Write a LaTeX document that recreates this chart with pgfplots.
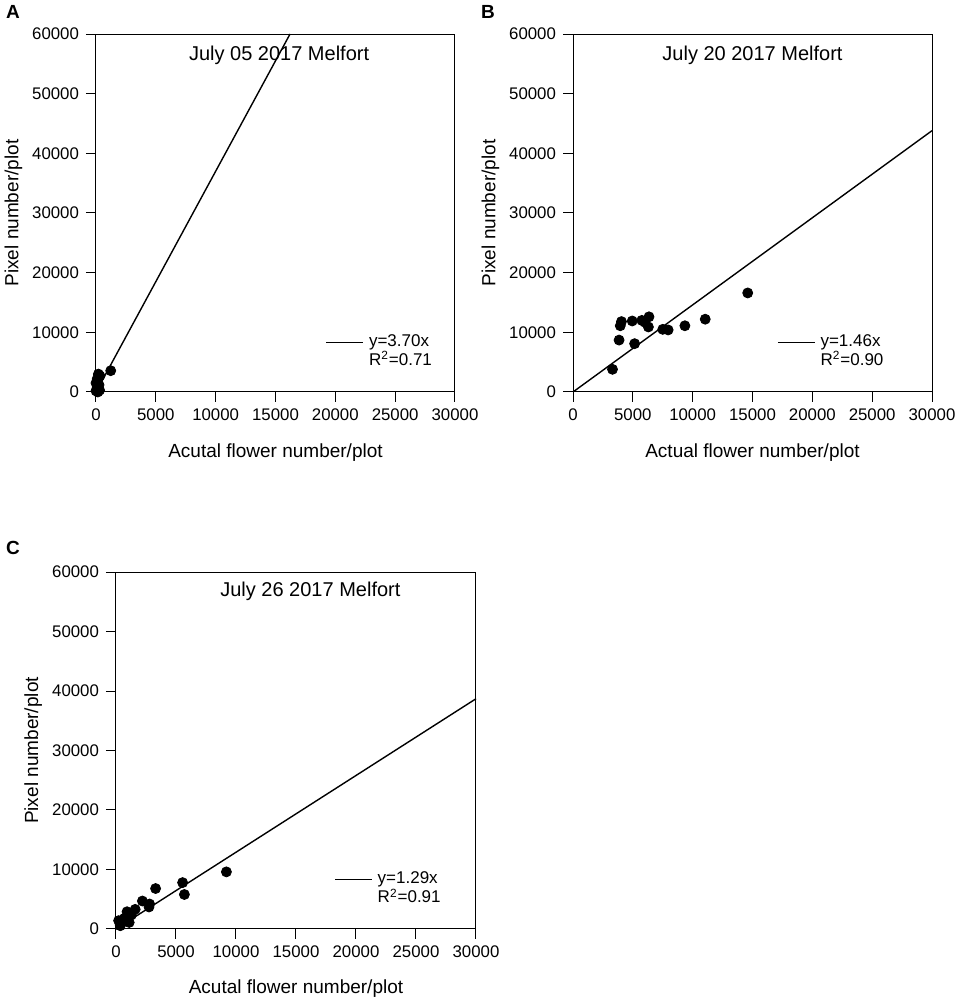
\documentclass[border=0pt]{standalone}
\usepackage{fontspec}
\setmainfont{Liberation Sans}
\usepackage{pgfplots}
\pgfplotsset{compat=1.18}

\pgfplotsset{
  panel/.style={
    width=179.5pt, height=179pt, scale only axis,
    xmin=0, xmax=30000, ymin=0, ymax=60000,
    xtick={0,5000,...,30000}, ytick={0,10000,...,60000},
    tick align=outside, tick pos=left, major tick length=5pt,
    axis line style={line width=0.5pt},
    every tick/.style={black, line width=0.5pt},
    scaled ticks=false,
    /pgf/number format/1000 sep={},
    /pgf/number format/assume math mode=true,
    tick label style={font=\fontsize{8.4}{10}\selectfont},
    label style={font=\fontsize{9.5}{11}\selectfont},
    xlabel style={at={(axis description cs:0.5,-0.168)}, anchor=center},
    ylabel style={at={(axis description cs:-0.23,0.5)}, anchor=center},
    clip=false,
    legend style={draw=none, fill=none, font=\fontsize{8.5}{9}\selectfont,
      row sep=-3pt, inner sep=0pt,
      /tikz/every odd column/.append style={column sep=0.5pt}},
    legend cell align=left,
  },
  dots/.style={only marks, mark=*, mark size=2.5pt, black, forget plot},
  fit/.style={black, line width=0.7pt, no marks,
    legend image code/.code={\draw[black, line width=0.6pt] (0cm,0cm) -- (0.65cm,0cm);}},
}

\begin{document}
\begin{tikzpicture}
\useasboundingbox (0pt,0pt) rectangle (478.5pt,-500.5pt);

% A
\begin{axis}[panel, at={(48pt,-17pt)}, anchor=north west,
  xlabel={Acutal flower number/plot}, ylabel={Pixel number/plot},
  legend style={at={(axis description cs:0.948,0.053)}, anchor=south east}]
\addplot[dots] coordinates {
  (1230,3570) (200,3000) (330,2700) (100,2200) (0,1500) (250,1200)
  (100,600) (0,200) (300,300) (150,0) (200,800)
};
\addplot[fit] coordinates {(0,0) (16216,60000)};
\addlegendentry{y=3.70x}
\addlegendimage{empty legend}
\addlegendentry{R\textsuperscript{2}=0.71}
\node[font=\fontsize{10}{12}\selectfont] at (rel axis cs:0.51,0.94) {July 05 2017 Melfort};
\node[font=\bfseries\fontsize{9.5}{11}\selectfont] at (rel axis cs:-0.231,1.061) {A};
\end{axis}

% B
\begin{axis}[panel, at={(286.5pt,-17pt)}, anchor=north west,
  xlabel={Actual flower number/plot}, ylabel={Pixel number/plot},
  legend style={at={(axis description cs:0.877,0.053)}, anchor=south east}]
\addplot[dots] coordinates {
  (3300,3800) (3850,8700) (3950,11100) (4050,11800) (4950,11900)
  (5150,8100) (5750,12000) (6000,11700) (6350,12600) (6300,10900)
  (7500,10500) (7950,10400) (9350,11100) (11050,12200) (14600,16600)
};
\addplot[fit] coordinates {(0,0) (30000,43800)};
\addlegendentry{y=1.46x}
\addlegendimage{empty legend}
\addlegendentry{R\textsuperscript{2}=0.90}
\node[font=\fontsize{10}{12}\selectfont] at (rel axis cs:0.50,0.94) {July 20 2017 Melfort};
\node[font=\bfseries\fontsize{9.5}{11}\selectfont] at (rel axis cs:-0.237,1.061) {B};
\end{axis}

% C
\begin{axis}[panel, at={(58pt,-286pt)}, anchor=north west,
  width=180pt, height=178.5pt,
  xlabel={Acutal flower number/plot}, ylabel={Pixel number/plot},
  legend style={at={(axis description cs:0.914,0.053)}, anchor=south east}]
\addplot[dots] coordinates {
  (220,1400) (360,550) (700,1800) (920,2900) (1100,1100) (1280,2350)
  (1600,3300) (2200,4700) (2800,4200) (2750,3700) (3300,6800)
  (5550,7800) (5700,5800) (9200,9600)
};
\addplot[fit] coordinates {(0,0) (30000,38700)};
\addlegendentry{y=1.29x}
\addlegendimage{empty legend}
\addlegendentry{R\textsuperscript{2}=0.91}
\node[font=\fontsize{10}{12}\selectfont] at (rel axis cs:0.54,0.947) {July 26 2017 Melfort};
\node[font=\bfseries\fontsize{9.5}{11}\selectfont] at (rel axis cs:-0.286,1.067) {C};
\end{axis}
\end{tikzpicture}
\end{document}
